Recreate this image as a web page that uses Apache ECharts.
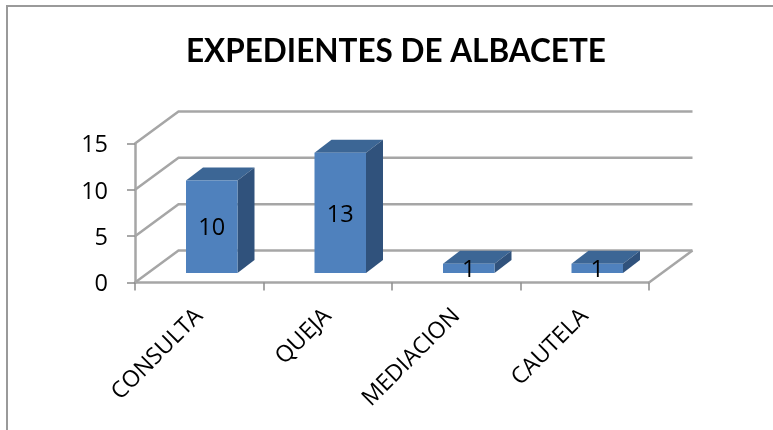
<!DOCTYPE html>
<html>
<head>
<meta charset="utf-8">
<style>html,body{margin:0;padding:0;background:#fff}#c{width:773px;height:430px}</style>
<script src="https://cdn.jsdelivr.net/npm/echarts@6/dist/echarts.min.js"></script>
</head>
<body>
<div id="c"></div>
<script>
const categories = ['CONSULTA', 'QUEJA', 'MEDIACION', 'CAUTELA'];
const values = [10, 13, 1, 1];
const yTicks = [0, 5, 10, 15];
const titleText = 'EXPEDIENTES DE ALBACETE';

const FONT = 'Open Sans';
const GREY = '#a6a6a6';
const DEPTH_X = 43.5, DEPTH_Y = 32;
const BAR_DX = 17, BAR_DY = 13, BAR_W = 51.5;
const OFF_X = 12.5, OFF_Y = 9.4;

const chart = echarts.init(document.getElementById('c'), null, {renderer: 'canvas'});

function renderWall(params, api) {
  const v = api.value(0);
  const cs = params.coordSys;
  const p = api.coord([categories[0], v]);
  const y = p[1];
  const x0 = cs.x, x1 = cs.x + cs.width;
  const st = {stroke: GREY, lineWidth: 2.5, fill: null};
  const children = [
    {type: 'polyline', shape: {points: [[x0, y], [x0 + DEPTH_X, y - DEPTH_Y], [x1 + DEPTH_X, y - DEPTH_Y]]}, style: st}
  ];
  if (v === 0) {
    children.push({type: 'line', shape: {x1: x1, y1: y, x2: x1 + DEPTH_X, y2: y - DEPTH_Y}, style: st});
  }
  return {type: 'group', children};
}

function renderBar(params, api) {
  const c = api.coord([api.value(0), 0]);
  const t = api.coord([api.value(0), api.value(1)]);
  const xl = c[0] - BAR_W / 2 + OFF_X, xr = xl + BAR_W;
  const yb = c[1] - OFF_Y, yt = t[1] - OFF_Y;
  return {
    type: 'group',
    children: [
      {type: 'polygon', shape: {points: [[xl, yt], [xl + BAR_DX, yt - BAR_DY], [xr + BAR_DX, yt - BAR_DY], [xr, yt]]}, style: {fill: '#3c6695'}},
      {type: 'polygon', shape: {points: [[xr, yt], [xr + BAR_DX, yt - BAR_DY], [xr + BAR_DX, yb - BAR_DY], [xr, yb]]}, style: {fill: '#30527c'}},
      {type: 'rect', shape: {x: xl, y: yt, width: BAR_W, height: yb - yt}, style: {fill: '#4f81bd'}},
      {type: 'text', style: {text: String(api.value(1)), x: xl + BAR_W / 2, y: (yt + yb) / 2 + 2, align: 'center', verticalAlign: 'middle', fill: '#000', font: '23.5px "' + FONT + '"'}}
    ]
  };
}

chart.setOption({
  animation: false,
  backgroundColor: '#fff',
  title: {
    text: titleText, left: 181, top: 31,
    textStyle: {fontFamily: 'Lato', fontWeight: 'bold', fontSize: 31.5, color: '#000'}
  },
  grid: {left: 135, right: 124, top: 143.5, bottom: 147.5},
  xAxis: {
    type: 'category', data: categories,
    axisLine: {lineStyle: {color: GREY, width: 2.5}},
    axisTick: {show: true, length: 8, lineStyle: {color: '#8c8c8c', width: 1.5}},
    axisLabel: {rotate: 45, interval: 0, margin: 30, color: '#000', fontFamily: FONT, fontSize: 23}
  },
  yAxis: {
    type: 'value', min: 0, max: 15, interval: 5,
    axisLine: {show: true, lineStyle: {color: GREY, width: 2.5}},
    axisTick: {show: true, length: 8, lineStyle: {color: '#8c8c8c', width: 1.5}},
    axisLabel: {margin: 27, verticalAlign: 'top', lineHeight: 4, color: '#000', fontFamily: FONT, fontSize: 23.5},
    splitLine: {show: false}
  },
  series: [
    {type: 'custom', z: 1, renderItem: renderWall, data: yTicks.map(v => [v]), encode: {y: 0}, silent: true, clip: false},
    {type: 'custom', z: 3, renderItem: renderBar, data: categories.map((c, i) => [i, values[i]]), encode: {x: 0, y: 1}, silent: true, clip: false}
  ],
  graphic: [
    {type: 'polyline', z: 0, silent: true, shape: {points: [[7, 430], [7, 6], [773, 6]]}, style: {stroke: '#9a9a9a', lineWidth: 2, fill: null}}
  ]
});
</script>
</body>
</html>
